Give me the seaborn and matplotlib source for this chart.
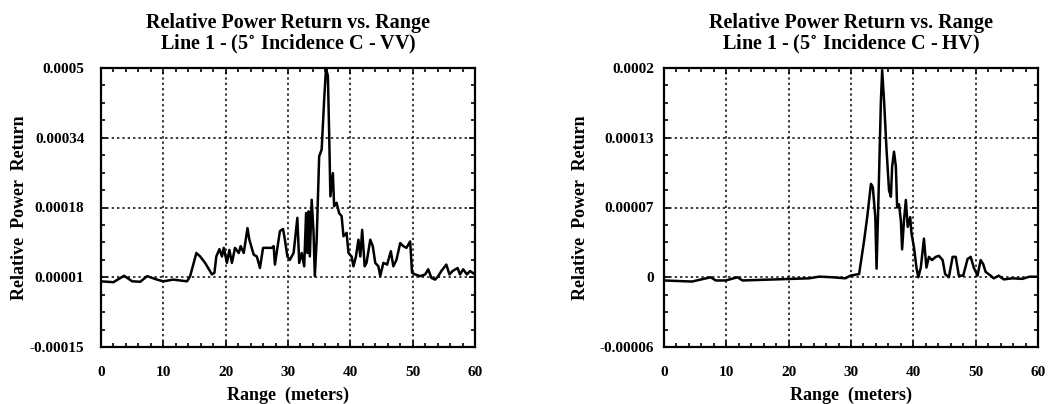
import numpy as np
import pandas as pd
import matplotlib
matplotlib.use("Agg")
import matplotlib.pyplot as plt
from matplotlib.ticker import MultipleLocator, AutoMinorLocator
import seaborn as sns

# ---- data (range in meters, relative power in units of 1e-6) ----
vv_range = [0, 2, 3.7, 5, 6.3, 7.4, 9, 10, 11.6, 13.8, 14.3, 15.3, 15.9, 16.7, 17.8,
            18.2, 18.5, 19, 19.4, 19.7, 20.2, 20.6, 21, 21.5, 22.1, 22.4, 22.9, 23.5,
            23.8, 24.5, 25, 25.5, 26, 26.9, 27.4, 27.7, 27.9, 28.7, 29.2, 29.5, 29.9,
            30.3, 30.9, 31.5, 31.8, 32.2, 32.6, 32.9, 33.1, 33.3, 33.5, 33.8, 34.1,
            34.3, 34.6, 35, 35.4, 35.8, 36.1, 36.4, 36.6, 36.8, 37.2, 37.4, 37.8, 38.2,
            38.6, 38.9, 39.4, 39.7, 40.2, 40.5, 40.9, 41.3, 41.6, 41.9, 42.3, 42.6,
            43.2, 43.6, 44, 44.5, 44.8, 45.3, 45.9, 46.5, 46.9, 47.4, 48, 48.5, 49,
            49.6, 49.9, 50.4, 51.2, 52, 52.5, 53, 53.6, 54.1, 54.6, 55.4, 55.9, 56.4,
            57.2, 57.6, 58.1, 58.7, 59.2, 60]
vv_power = [3, 1, 16, 3, 2, 15, 7, 3, 7, 3, 15, 69, 61, 46, 19,
            23, 61, 78, 61, 81, 46, 76, 46, 81, 69, 85, 69, 127,
            100, 65, 61, 34, 81, 81, 81, 85, 42, 120, 125, 100, 61,
            53, 69, 151, 46, 69, 38, 162, 69, 166, 61, 193, 116,
            15, 100, 294, 310, 426, 500, 481, 349, 201, 255, 178, 186, 162,
            155, 108, 116, 69, 61, 38, 61, 100, 61, 123, 38, 46,
            100, 85, 46, 38, 15, 46, 42, 73, 38, 53, 92, 85, 81,
            96, 23, 19, 15, 19, 31, 11, 7, 15, 27, 42, 19, 27,
            34, 19, 31, 19, 27, 19]

hv_range = [0, 4.5, 7.5, 8.3, 9.9, 11.8, 12.6, 15.2, 17.9, 20.6, 23.3, 24.9, 27, 29.1,
            29.9, 31.3, 32.1, 32.6, 33.2, 33.5, 33.9, 34.1, 34.4, 34.8, 35, 35.3, 35.7,
            36.1, 36.4, 36.6, 36.9, 37.2, 37.4, 37.7, 38, 38.2, 38.5, 38.8, 39.1, 39.5,
            39.7, 40.1, 40.5, 40.8, 41.2, 41.7, 42.1, 42.5, 43, 43.6, 44.1, 44.7, 45.1,
            45.7, 46.3, 46.8, 47.3, 48, 48.7, 49.2, 49.7, 50.3, 50.8, 51.2, 51.6, 52.4,
            52.9, 53.7, 54.5, 55.9, 57.5, 58.6, 60]
hv_power = [2, 1, 5, 2, 2, 5, 2, 2.5, 3, 3.5, 4, 5.6, 5, 4,
            6.5, 8, 39, 61, 92, 89, 61, 13, 77, 170, 198, 170, 124,
            86, 80, 108, 122, 108, 70, 73, 58, 31, 58, 77, 52, 61,
            46, 33, 14, 5, 14, 41, 14, 24, 21, 24, 25, 21, 8,
            5, 24, 24, 6.5, 6.5, 22, 24, 14, 6.5, 21, 17.4, 10, 6.5,
            4, 6.5, 3, 4, 3.5, 5.5, 5.5]

titles = ["Relative Power Return vs. Range\nLine 1 - (5$^{\\circ}$ Incidence C - VV)",
          "Relative Power Return vs. Range\nLine 1 - (5$^{\\circ}$ Incidence C - HV)"]
vv_yticks = [-0.00015, 0.0000125, 0.000175, 0.0003375, 0.0005]
vv_ylabels = ["-0.00015", "0.00001", "0.00018", "0.00034", "0.0005"]
hv_yticks = [-0.00006, 0.000005, 0.00007, 0.000135, 0.0002]
hv_ylabels = ["-0.00006", "0", "0.00007", "0.00013", "0.0002"]
xticks = [0, 10, 20, 30, 40, 50, 60]

sns.set_theme(style="ticks")
plt.rcParams['font.family'] = ['Liberation Serif', 'DejaVu Serif']
plt.rcParams['font.weight'] = 'bold'
plt.rcParams['mathtext.fontset'] = 'dejavuserif'
for key in ['text.color', 'axes.labelcolor', 'xtick.color', 'ytick.color',
            'xtick.labelcolor', 'ytick.labelcolor', 'axes.edgecolor']:
    plt.rcParams[key] = 'black'

fig = plt.figure(figsize=(10.52, 4.04), dpi=100)
ax1 = fig.add_axes([101/1052, 1-347/404, 374/1052, 279/404])
ax2 = fig.add_axes([664/1052, 1-347/404, 374/1052, 279/404])

dfs = [pd.DataFrame({"range": vv_range, "power": np.array(vv_power) * 1e-6}),
       pd.DataFrame({"range": hv_range, "power": np.array(hv_power) * 1e-6})]
yts = [(vv_yticks, vv_ylabels), (hv_yticks, hv_ylabels)]
ypads = [12, 7]
ylabelpads = [1, 8]

for ax, df, (yt, yl), title, ypad, ylp in zip([ax1, ax2], dfs, yts, titles, ypads, ylabelpads):
    sns.lineplot(data=df, x="range", y="power", ax=ax, sort=False,
                 color="black", linewidth=1.8, estimator=None)
    ax.set_xlim(0, 60)
    ax.set_ylim(yt[0], yt[-1])
    ax.set_xticks(xticks)
    ax.set_xticklabels([str(t) for t in xticks], fontsize=11, fontweight='bold', color='black')
    ax.set_yticks(yt)
    ax.set_yticklabels(yl, fontsize=11, fontweight='bold', color='black')
    ax.xaxis.set_minor_locator(MultipleLocator(2))
    ax.yaxis.set_minor_locator(AutoMinorLocator(4))
    ax.tick_params(which='both', direction='in', top=True, right=True, color='black')
    ax.tick_params(which='major', length=4, width=1.2)
    ax.tick_params(which='minor', length=3, width=1.2)
    ax.tick_params(axis='x', which='major', pad=14)
    ax.tick_params(axis='y', which='major', pad=ypad)
    ax.grid(True, which='major', linestyle=(0, (1.5, 2)), color='black', linewidth=1.1)
    for s in ax.spines.values():
        s.set_linewidth(1.6)
        s.set_color('black')
    ax.set_xlabel("Range  (meters)", fontsize=13, fontweight='bold', labelpad=5, color='black')
    ax.set_ylabel("Relative  Power  Return", fontsize=13, fontweight='bold', labelpad=ylp, color='black')
    ax.set_title(title, fontsize=14.5, fontweight='bold', pad=13, linespacing=1.05, color='black')

fig.savefig("out.png", dpi=100, facecolor='white')
